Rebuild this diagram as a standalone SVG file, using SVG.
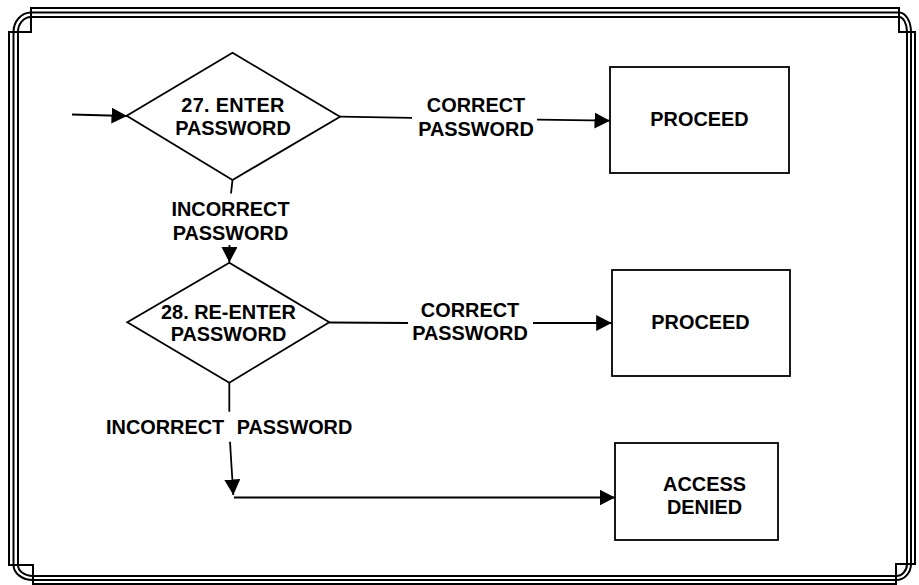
<svg xmlns="http://www.w3.org/2000/svg" width="919" height="585" viewBox="0 0 919 585">
<style>
.frame{fill:none;stroke:#000;stroke-width:2}
.shape{fill:#fff;stroke:#000;stroke-width:1.8}
.conn{fill:none;stroke:#000;stroke-width:1.8}
text{font-family:"Liberation Sans",Arial,Helvetica,sans-serif;font-weight:bold;font-size:19.9px;fill:#000;text-anchor:middle}
</style>
<defs>
<marker id="arr" markerUnits="userSpaceOnUse" markerWidth="17" markerHeight="17" refX="15.5" refY="8" orient="auto">
<path d="M0,0 L15.5,8 L0,16 Z" fill="#000"/>
</marker>
</defs>
<rect width="919" height="585" fill="#fff"/>
<g id="frame">
<path class="frame" d="M9,32 H31 V8 H899 V32 H915 V564 H896 V584 H33 V565 H9 Z"/>
<path class="frame" d="M31,12.5 H899 A12,19.5 0 0 1 911,32 V564 A15,16 0 0 1 896,580 H33 A19.5,15 0 0 1 13.5,565 V32 A17.5,19.5 0 0 1 31,12.5 Z"/>
<path class="frame" d="M31,17 H899 A8,15 0 0 1 907,32 V564 A11,12 0 0 1 896,576 H33 A15,11 0 0 1 18,565 V32 A13,15 0 0 1 31,17 Z"/>
</g>
<g id="connectors">
<line class="conn" x1="72" y1="114.5" x2="127" y2="116" marker-end="url(#arr)"/>
<line class="conn" x1="340" y1="116.7" x2="412" y2="117.8"/>
<line class="conn" x1="537" y1="119.6" x2="610" y2="120.7" marker-end="url(#arr)"/>
<line class="conn" x1="232.5" y1="180" x2="231" y2="193.5"/>
<line class="conn" x1="229.5" y1="245" x2="229.3" y2="262.5" marker-end="url(#arr)"/>
<line class="conn" x1="329.3" y1="322.5" x2="408" y2="323"/>
<line class="conn" x1="533" y1="323" x2="611.7" y2="323" marker-end="url(#arr)"/>
<line class="conn" x1="229.3" y1="383" x2="229.3" y2="411.7"/>
<line class="conn" x1="230" y1="441.7" x2="233.3" y2="495" marker-end="url(#arr)"/>
<line class="conn" x1="234" y1="497.5" x2="615" y2="497.5" marker-end="url(#arr)"/>
</g>
<g id="d27">
<polygon class="shape" points="232.5,52.7 340,116.7 232.5,180 126.7,115.7"/>
<text x="233" y="112" style="letter-spacing:0.3px">27. ENTER</text>
<text x="233" y="134.5">PASSWORD</text>
</g>
<g id="lbl-correct-1">
<text x="476" y="112">CORRECT</text>
<text x="476" y="136">PASSWORD</text>
</g>
<g id="proceed-1">
<rect class="shape" x="610" y="67" width="179" height="106"/>
<text x="699.5" y="126">PROCEED</text>
</g>
<g id="lbl-incorrect-1">
<text x="230.5" y="216">INCORRECT</text>
<text x="230.5" y="239.5">PASSWORD</text>
</g>
<g id="d28">
<polygon class="shape" points="229.3,262.7 329.3,322.3 229.3,382.7 127.3,322.3"/>
<text x="228.5" y="318.5">28. RE-ENTER</text>
<text x="228.5" y="341">PASSWORD</text>
</g>
<g id="lbl-correct-2">
<text x="470" y="317">CORRECT</text>
<text x="470" y="340">PASSWORD</text>
</g>
<g id="proceed-2">
<rect class="shape" x="612" y="270" width="178" height="106"/>
<text x="700.5" y="329">PROCEED</text>
</g>
<g id="lbl-incorrect-2">
<text style="text-anchor:start" y="434"><tspan x="106">INCORRECT</tspan><tspan x="236.7">PASSWORD</tspan></text>
</g>
<g id="access-denied">
<rect class="shape" x="615" y="443" width="163" height="97"/>
<text x="704.5" y="491">ACCESS</text>
<text x="704.5" y="514">DENIED</text>
</g>
</svg>
